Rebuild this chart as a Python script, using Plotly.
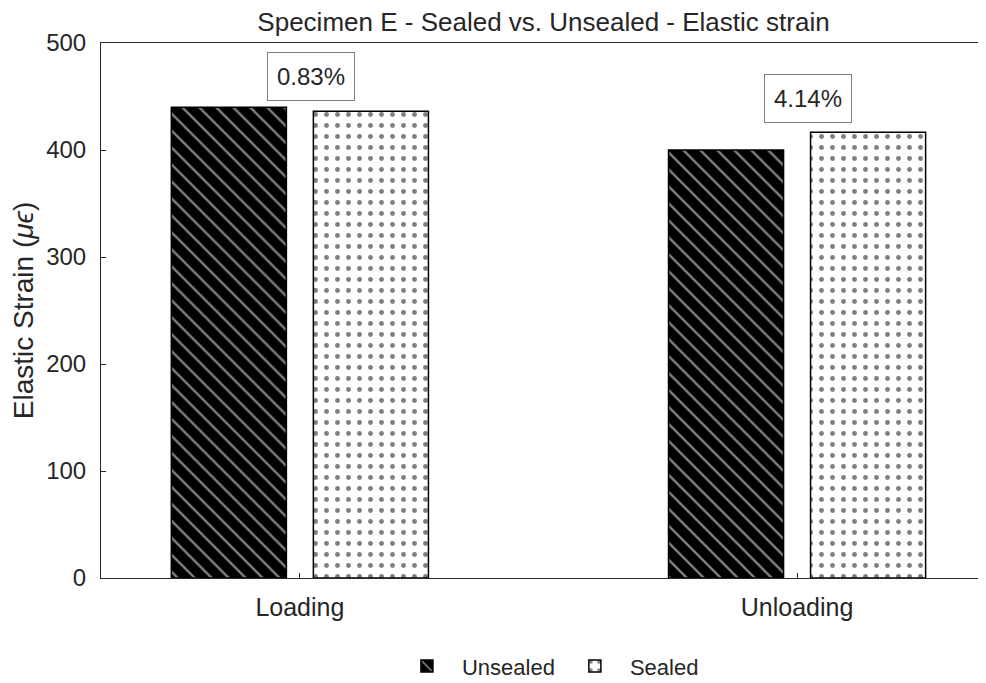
import plotly.graph_objects as go

categories = ["Loading", "Unloading"]
cat_pos = [1, 2]
unsealed = [440.0, 400.0]
sealed = [436.3, 416.6]
diff_labels = ["0.83%", "4.14%"]
label_y = [469, 448]

FONT = "Liberation Sans, Arial, sans-serif"
AX = "#262626"

fig = go.Figure()
fig.add_trace(go.Bar(
    x=cat_pos, y=unsealed, name="Unsealed",
    marker=dict(color="black", line=dict(color="black", width=1.5),
                pattern=dict(shape="\\", bgcolor="black", fgcolor="white",
                             size=12, solidity=0.2, fillmode="overlay")),
))
fig.add_trace(go.Bar(
    x=cat_pos, y=sealed, name="Sealed",
    marker=dict(color="white", line=dict(color="black", width=1.5),
                pattern=dict(shape=".", bgcolor="white", fgcolor="black",
                             size=11, solidity=0.16, fillmode="overlay")),
))

for cx, ly, txt in zip(cat_pos, label_y, diff_labels):
    fig.add_annotation(x=cx + 0.022, y=ly, text=txt, showarrow=False,
                       font=dict(family=FONT, size=24, color=AX),
                       bordercolor="#7f7f7f", borderwidth=1, borderpad=1,
                       bgcolor="white", width=84, height=45)

fig.update_layout(
    width=978, height=675,
    margin=dict(l=93, r=0, t=35, b=105, autoexpand=False),
    paper_bgcolor="white", plot_bgcolor="white",
    barmode="group", bargap=0.4286, bargroupgap=0.19,
    font=dict(family=FONT, size=24, color=AX),
    title=dict(text="Specimen E - Sealed vs. Unsealed - Elastic strain",
               x=0.5, xref="paper", xanchor="center", y=1.0, yanchor="top",
               pad=dict(t=5, b=0),
               font=dict(family=FONT, size=26, color=AX)),
    xaxis=dict(range=[0.6, 2.38], tickmode="array", tickvals=cat_pos,
               ticktext=categories, ticks="inside", ticklen=5, tickcolor=AX,
               showline=True, linecolor=AX, linewidth=1, mirror=True,
               showgrid=False, zeroline=False, ticklabelstandoff=7,
               automargin=False, tickfont=dict(size=25, color=AX)),
    yaxis=dict(range=[0, 500], tickvals=[0, 100, 200, 300, 400, 500],
               ticks="inside", ticklen=5, tickcolor=AX,
               showline=True, linecolor=AX, linewidth=1,
               showgrid=False, zeroline=False, ticklabelstandoff=9,
               automargin=False, tickfont=dict(size=24, color=AX),
               title=dict(text="Elastic Strain (<i>μϵ</i>)", standoff=10,
                          font=dict(size=28, color=AX))),
    legend=dict(orientation="h", x=0.505, xanchor="center", y=-0.165,
                yanchor="middle", font=dict(size=22, color=AX),
                itemwidth=60, traceorder="normal"),
)

fig.write_html("out.html")
